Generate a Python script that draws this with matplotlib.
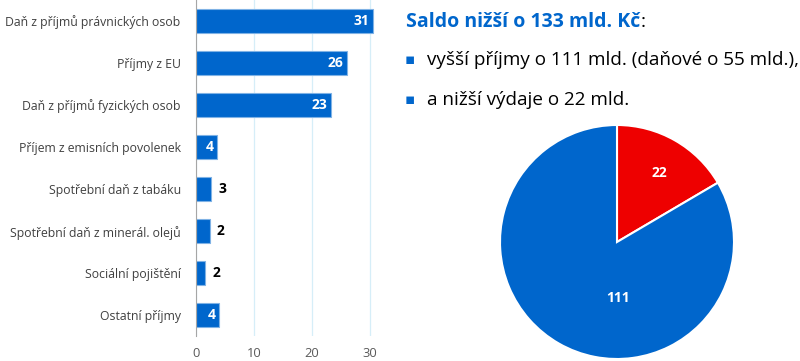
import matplotlib.pyplot as plt
import numpy as np

# Bar data (mld. Kč)
categories = ['Daň z příjmů právnických osob', 'Příjmy z EU', 'Daň z příjmů fyzických osob',
              'Příjem z emisních povolenek', 'Spotřební daň z tabáku',
              'Spotřební daň z minerál. olejů', 'Sociální pojištění', 'Ostatní příjmy']
values = [30.6, 26.0, 23.3, 3.6, 2.6, 2.4, 1.6, 4.0]
xticks = [0, 10, 20, 30]

# Pie data
pie_labels = ['nižší výdaje', 'vyšší příjmy']
pie_values = [22, 111]

title_bold = 'Saldo nižší o 133 mld. Kč'
bullets = ['vyšší příjmy o 111 mld. (daňové o 55 mld.),', 'a nižší výdaje o 22 mld.']

blue = '#0066CC'
red = '#EE0000'
plt.rcParams['font.family'] = ['Open Sans', 'DejaVu Sans']

fig = plt.figure(figsize=(8, 3.61), dpi=100)

# Bar chart
ax = fig.add_axes([0.245, 0.069, 0.2425, 0.931])
y = np.arange(len(categories))
ax.barh(y, values, height=0.58, color=blue, edgecolor='#7FB2E5', linewidth=0.8, zorder=3)
ax.set_ylim(len(categories) - 0.5, -0.5)
ax.set_xlim(0, 33.5)
ax.set_yticks(y)
ax.set_yticklabels(categories, fontsize=8.85, color='#404040')
ax.set_xticks(xticks)
ax.set_xticklabels([str(t) for t in xticks], fontsize=9.3, color='#595959')
ax.tick_params(axis='y', length=0, pad=11)
ax.tick_params(axis='x', length=0, pad=8)
ax.grid(axis='x', color='#D6EEF8', linewidth=0.9, zorder=0)
for s in ['top', 'right', 'bottom']:
    ax.spines[s].set_visible(False)
ax.spines['left'].set_color('#A6A6A6')
ax.spines['left'].set_zorder(4)

for yi, v in zip(y, values):
    txt = '%.0f' % v
    if v >= 3.5:
        ax.text(v - 0.6, yi, txt, ha='right', va='center', color='white',
                fontsize=10, fontweight='bold', zorder=5)
    else:
        ax.text(v + 1.2, yi, txt, ha='left', va='center', color='black',
                fontsize=10, fontweight='bold', zorder=5)

# Text block
t = fig.text(406 / 800, 1 - 22 / 361, title_bold, color=blue, fontsize=14,
             fontweight='bold', va='center', ha='left')
fig.canvas.draw()
bb = t.get_window_extent()
fig.text(bb.x1 / 800, 1 - 22 / 361, ':', color='black', fontsize=14,
         va='center', ha='left')

for i, b in enumerate(bullets):
    yy = 1 - (60 + 40 * i) / 361
    fig.text(405 / 800, yy, '\u25aa', color=blue, fontsize=11, va='center', ha='left',
             family=['DejaVu Sans'])
    fig.text(427 / 800, yy, b, color='black', fontsize=13.6, va='center', ha='left')

# Pie chart
pax = fig.add_axes([500 / 800, 2 / 361, 234 / 800, 234 / 361])
pax.pie(pie_values, colors=[red, blue], startangle=90, counterclock=False,
        wedgeprops=dict(edgecolor='white', linewidth=1.5))
# value labels
pax.text(0.36, 0.59, str(pie_values[0]), color='white', fontsize=10,
         fontweight='bold', ha='center', va='center')
pax.text(0.01, -0.48, str(pie_values[1]), color='white', fontsize=10,
         fontweight='bold', ha='center', va='center')
pax.set_xlim(-1, 1)
pax.set_ylim(-1, 1)
pax.set_aspect('equal')
pax.axis('off')

fig.savefig('out.png', dpi=100)
